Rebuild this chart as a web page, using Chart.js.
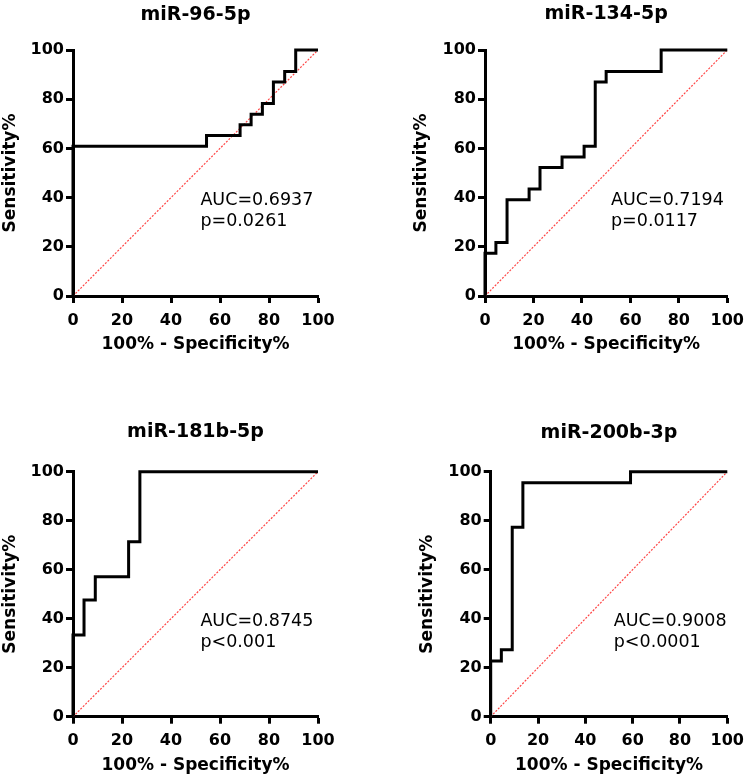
<!DOCTYPE html>
<html>
<head>
<meta charset="utf-8">
<script src="https://cdn.jsdelivr.net/npm/chart.js@4.4.1/dist/chart.umd.min.js"></script>
<style>
  body { margin: 0; background: #fff; }
  #wrap { position: relative; width: 752px; height: 783px; }
  #wrap canvas { position: absolute; }
</style>
</head>
<body>
<div id="wrap">
  <canvas id="c1" width="376" height="380" style="left:0;top:0"></canvas>
  <canvas id="c2" width="376" height="380" style="left:376px;top:0"></canvas>
  <canvas id="c3" width="376" height="403" style="left:0;top:380px"></canvas>
  <canvas id="c4" width="376" height="403" style="left:376px;top:380px"></canvas>
</div>
<script>
// ROC curves: x = 100% - Specificity%, y = Sensitivity%
const titles = ['miR-96-5p', 'miR-134-5p', 'miR-181b-5p', 'miR-200b-3p'];
const aucText = ['AUC=0.6937', 'AUC=0.7194', 'AUC=0.8745', 'AUC=0.9008'];
const pText = ['p=0.0261', 'p=0.0117', 'p<0.001', 'p<0.0001'];
const axisTicks = [0, 20, 40, 60, 80, 100];

const fpr96 = [0, 0, 54.5, 68.2, 72.7, 77.3, 81.8, 86.4, 90.9, 100];
const sens96 = [0, 60.9, 65.2, 69.6, 73.9, 78.3, 87.0, 91.3, 100, 100];

const fpr134 = [0, 0, 4.5, 9.1, 18.2, 22.7, 31.8, 40.9, 45.5, 50.0, 72.7, 100];
const sens134 = [0, 17.4, 21.7, 39.1, 43.5, 52.2, 56.5, 60.9, 87.0, 91.3, 100, 100];

const fpr181 = [0, 0, 4.5, 9.1, 22.7, 27.3, 100];
const sens181 = [0, 33.3, 47.6, 57.1, 71.4, 100, 100];

const fpr200 = [0, 0, 4.5, 9.1, 13.6, 59.1, 100];
const sens200 = [0, 22.7, 27.3, 77.3, 95.5, 100, 100];

const refX = [0, 100];
const refY = [0, 100];

const boldFont = '"DejaVu Sans", sans-serif';

// where the text block sits, in data units
const labelX = 52, aucY = 37, pY = 28.3;

const aucLabel = {
  id: 'aucLabel',
  afterDatasetsDraw(chart, args, opts) {
    const {ctx, scales: {x, y}} = chart;
    ctx.save();
    ctx.font = '17.5px "DejaVu Sans", sans-serif';
    ctx.fillStyle = '#000';
    ctx.textAlign = 'left';
    ctx.textBaseline = 'alphabetic';
    ctx.fillText(opts.auc, x.getPixelForValue(labelX), y.getPixelForValue(aucY));
    ctx.fillText(opts.p, x.getPixelForValue(labelX), y.getPixelForValue(pY));
    ctx.restore();
  }
};

function pts(xs, ys) {
  return xs.map((v, i) => ({x: v, y: ys[i]}));
}

function axis(titleText, size, isY) {
  return {
    type: 'linear',
    min: 0,
    max: 100,
    afterBuildTicks: s => { s.ticks = axisTicks.map(v => ({value: v})); },
    afterFit: s => { if (isY) s.width = size; else s.height = size; },
    grid: {
      display: true,
      drawOnChartArea: false,
      drawTicks: true,
      tickLength: 7,
      tickWidth: 3,
      tickColor: '#000'
    },
    border: {display: true, width: 3, color: '#000'},
    ticks: {
      color: '#000',
      padding: isY ? 2 : 8,
      font: {family: boldFont, size: 16, weight: 'bold'}
    },
    title: {
      display: true,
      text: titleText,
      color: '#000',
      padding: 0,
      font: {family: boldFont, size: 17, weight: 'bold'}
    }
  };
}

function makeChart(id, i, xs, ys, pad, yWidth, titlePad) {
  new Chart(document.getElementById(id), {
    type: 'scatter',
    data: {
      datasets: [
        {
          data: pts(xs, ys),
          showLine: true,
          stepped: 'before',
          borderColor: '#000',
          borderWidth: 3,
          borderJoinStyle: 'miter',
          pointRadius: 0,
          clip: false,
          order: 0
        },
        {
          data: pts(refX, refY),
          showLine: true,
          borderColor: '#ff4545',
          borderWidth: 1.2,
          borderDash: [2, 1.5],
          pointRadius: 0,
          order: 1
        }
      ]
    },
    options: {
      responsive: false,
      animation: false,
      layout: {padding: pad},
      scales: {
        x: axis('100% - Specificity%', 59, false),
        y: axis('Sensitivity%', yWidth, true)
      },
      plugins: {
        legend: {display: false},
        tooltip: {enabled: false},
        title: {
          display: true,
          fullSize: false,
          text: titles[i],
          color: '#000',
          padding: titlePad,
          font: {family: boldFont, size: 19, weight: 'bold'}
        },
        aucLabel: {auc: aucText[i], p: pText[i]}
      }
    },
    plugins: [aucLabel]
  });
}

makeChart('c1', 0, fpr96, sens96, {left: 0, right: 58, top: 0, bottom: 25}, 73, {top: 3.6, bottom: 23.6});
makeChart('c2', 1, fpr134, sens134, {left: 35, right: 22.7, top: 0, bottom: 25}, 74, {top: 2.6, bottom: 24.6});
makeChart('c3', 2, fpr181, sens181, {left: 0, right: 58, top: 0, bottom: 7.3}, 73, {top: 41.1, bottom: 27.8});
makeChart('c4', 3, fpr200, sens200, {left: 41.3, right: 16, top: 0, bottom: 7.3}, 73.4, {top: 42.1, bottom: 26.8});
</script>
</body>
</html>
